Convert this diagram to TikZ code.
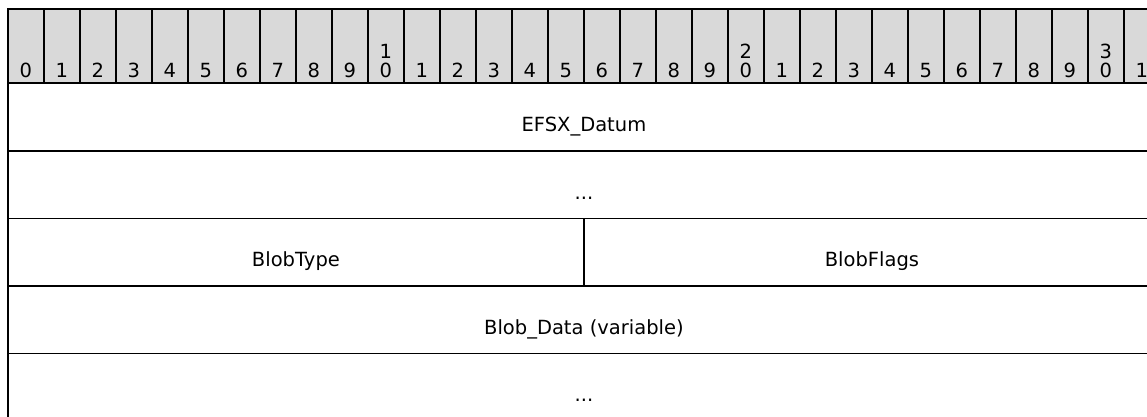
\documentclass[tikz,border=0pt]{standalone}
\usepackage{fontspec}
\setmainfont{DejaVu Sans}
\usetikzlibrary{calc}
\definecolor{hdrgray}{RGB}{217,217,217}
\begin{document}
\begin{tikzpicture}[x=1pt,y=-1pt,
  hdrcell/.style={draw=black,line width=1.8pt,fill=hdrgray,inner sep=0pt,
    minimum width=36pt,minimum height=74pt,anchor=north west},
  rowcell/.style={draw=black,line width=1.8pt,inner sep=0pt,
    minimum height=67.5pt,anchor=north west},
  lbl/.style={anchor=base,inner sep=0pt,font=\fontsize{19.5}{22}\selectfont}
  ]
\useasboundingbox (0,0) rectangle (1147,416);
\clip (0,0) rectangle (1147,416);
% header
\foreach \i in {0,...,31}{
  \node[hdrcell] (h\i) at ({7+36*\i},8) {};
  \pgfmathtruncatemacro{\tens}{int(\i/10)}
  \pgfmathtruncatemacro{\units}{mod(\i,10)}
  \node[lbl] (d\i) at ($(h\i.south)+(0,-6)$) {\units};
  \ifnum\i>0 \ifnum\units=0
    \node[lbl] (t\i) at ($(h\i.south)+(0,-25)$) {\tens};
  \fi\fi
}
% rows
\node[rowcell,minimum width=1152pt] (r1) at (7,82.5) {};
\node[rowcell,minimum width=1152pt] (r2) at (7,150) {};
\node[rowcell,minimum width=576pt] (r3a) at (7,217.5) {};
\node[rowcell,minimum width=576pt] (r3b) at (583,217.5) {};
\node[rowcell,minimum width=1152pt] (r4) at (7,285) {};
\node[rowcell,minimum width=1152pt] (r5) at (7,352.5) {};
% labels
\node[lbl] (l1) at ($(r1.north)+(0,49)$) {EFSX\_Datum};
\node[lbl] (l2) at ($(r2.north)+(0,49)$) {...};
\node[lbl] (l3a) at ($(r3a.north)+(0,49)$) {BlobType};
\node[lbl] (l3b) at ($(r3b.north)+(0,49)$) {BlobFlags};
\node[lbl] (l4) at ($(r4.north)+(0,49)$) {Blob\_Data (variable)};
\node[lbl] (l5) at ($(r5.north)+(0,49)$) {...};
\end{tikzpicture}
\end{document}
